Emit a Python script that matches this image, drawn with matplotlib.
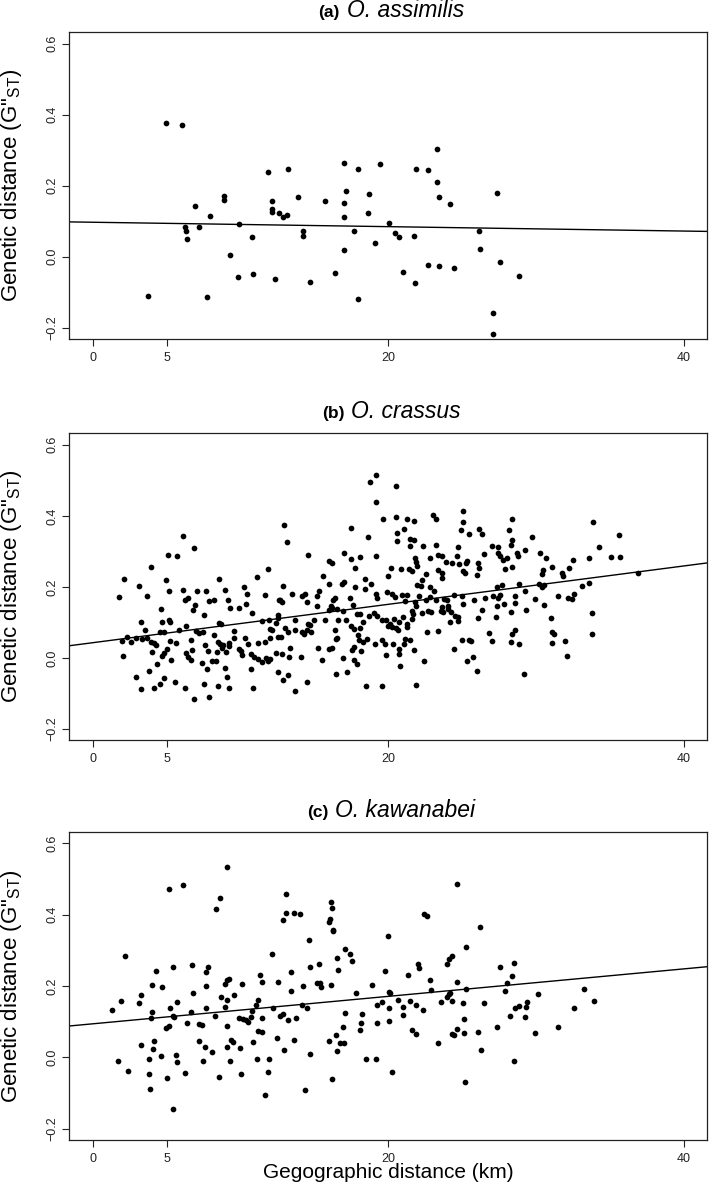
import matplotlib
matplotlib.use('Agg')
import matplotlib.pyplot as plt
import numpy as np

plt.rcParams['font.family'] = ['Liberation Sans', 'DejaVu Sans']
plt.rcParams['mathtext.fontset'] = 'custom'
plt.rcParams['mathtext.rm'] = 'Liberation Sans'

# tick values / labels
x_ticks = [0, 5, 20, 40]
y_ticks = [-0.2, 0.0, 0.2, 0.4, 0.6]
y_ticklabels = ['\u22120.2', '0.0', '0.2', '0.4', '0.6']

tags = ['(a)', '(b)', '(c)']
species = ['O. assimilis', 'O. crassus', 'O. kawanabei']

# fitted lines: (intercept, slope)
fit_a = (0.097, -0.00062)
fit_b = (0.0428, 0.0054)
fit_c = (0.094, 0.00385)

# (geographic distance km, G''ST) pairs
pts_a = [
    (3.72, -0.112), (4.94, 0.376), (6.02, 0.370), (6.24, 0.085), (6.33, 0.073), (6.36, 0.050),
    (6.88, 0.142), (7.16, 0.085), (7.73, -0.113), (7.91, 0.114), (8.89, 0.172), (8.89, 0.160),
    (9.29, 0.006), (9.88, 0.093), (9.85, -0.058), (10.80, 0.055), (10.83, -0.048), (11.88, 0.238),
    (12.11, 0.156), (12.11, 0.135), (12.11, 0.127), (12.31, -0.064), (12.60, 0.122), (12.85, 0.112),
    (13.15, 0.118), (13.20, 0.246), (13.91, 0.169), (14.20, 0.072), (14.20, 0.057), (14.70, -0.070),
    (15.72, 0.157), (16.37, -0.046), (16.98, 0.264), (16.98, 0.152), (16.98, 0.112), (17.00, 0.018),
    (17.12, 0.185), (17.68, 0.072), (17.95, 0.246), (17.93, -0.119), (18.63, 0.123), (18.67, 0.176),
    (19.10, 0.039), (19.44, 0.261), (20.07, 0.094), (20.43, 0.068), (20.75, 0.055), (21.02, -0.042),
    (21.72, 0.057), (21.85, 0.246), (21.83, -0.073), (22.69, -0.022), (22.72, 0.245), (23.30, 0.304),
    (23.30, 0.209), (23.40, 0.168), (23.40, -0.025), (24.17, 0.149), (24.45, -0.032), (26.11, 0.073),
    (26.23, 0.023), (27.11, -0.158), (27.07, -0.218), (27.33, 0.180), (27.54, -0.014), (28.84, -0.054),
]

pts_b = [
    (6.11, 0.343), (6.87, 0.309), (5.09, 0.289), (5.68, 0.286), (3.94, 0.257), (2.10, 0.223),
    (4.96, 0.220), (8.52, 0.221), (3.11, 0.202), (11.11, 0.228), (11.84, 0.251),
    (1.78, 0.171), (3.65, 0.174), (5.14, 0.188), (6.09, 0.191), (7.03, 0.188), (7.66, 0.188),
    (8.93, 0.190), (10.21, 0.199), (10.44, 0.180), (11.68, 0.176),
    (6.22, 0.164), (6.47, 0.169), (6.92, 0.149), (6.81, 0.134), (7.87, 0.159), (8.21, 0.164),
    (9.15, 0.164), (10.39, 0.153), (9.29, 0.140), (9.92, 0.141), (10.78, 0.126), (4.62, 0.138),
    (7.53, 0.122), (12.63, 0.164), (12.56, 0.120), (12.51, 0.111),
    (3.25, 0.101), (4.67, 0.100), (5.12, 0.106), (5.21, 0.100), (3.52, 0.078), (4.55, 0.074),
    (4.82, 0.074), (6.31, 0.089), (5.82, 0.078), (6.97, 0.077), (7.19, 0.071), (7.44, 0.072),
    (8.57, 0.099), (8.68, 0.094), (8.23, 0.064), (9.58, 0.077), (11.43, 0.105), (11.91, 0.106),
    (12.42, 0.098), (12.00, 0.082), (12.11, 0.078),
    (2.30, 0.060), (1.96, 0.047), (2.59, 0.046), (2.91, 0.056), (3.34, 0.053), (3.65, 0.056),
    (3.90, 0.046), (4.15, 0.042), (4.26, 0.036), (3.99, 0.016), (5.21, 0.048), (5.64, 0.041),
    (6.65, 0.051), (7.62, 0.036), (8.50, 0.046), (8.61, 0.039), (8.79, 0.036), (9.22, 0.041),
    (9.24, 0.033), (9.58, 0.055), (10.28, 0.056), (10.48, 0.040), (11.16, 0.042), (11.68, 0.044),
    (12.02, 0.055), (12.56, 0.058),
    (2.05, 0.005), (4.69, 0.006), (4.82, 0.014), (5.05, 0.026), (4.33, -0.016), (5.30, -0.006),
    (6.31, 0.015), (6.70, 0.023), (6.47, 0.002), (6.61, -0.007), (7.37, -0.013), (7.78, 0.020),
    (7.73, -0.032), (8.03, -0.010), (8.34, -0.008), (8.43, 0.016), (8.73, 0.027), (9.04, 0.017),
    (9.90, 0.026), (10.01, 0.018), (10.10, 0.007), (10.69, 0.012), (10.94, 0.003), (11.21, -0.002),
    (11.43, -0.011), (11.70, 0.000), (11.86, -0.009), (12.00, -0.002), (12.38, 0.015),
    (3.83, -0.037), (2.95, -0.053), (4.80, -0.057), (4.55, -0.073), (4.15, -0.084), (3.27, -0.087),
    (5.57, -0.068), (6.24, -0.085), (6.83, -0.117), (7.55, -0.073), (7.87, -0.109), (8.50, -0.079),
    (9.11, -0.054), (9.24, -0.085), (8.95, -0.029), (10.71, -0.032), (10.85, -0.084), (12.51, -0.041),
    # middle section
    (19.16, 0.515), (18.73, 0.494), (20.49, 0.485), (19.19, 0.439), (12.96, 0.374), (13.14, 0.325),
    (17.45, 0.367), (18.60, 0.340), (19.64, 0.390), (20.54, 0.398), (21.26, 0.391), (21.76, 0.386),
    (23.02, 0.402), (23.24, 0.390), (25.05, 0.414), (25.03, 0.382), (24.89, 0.360), (25.45, 0.350),
    (20.58, 0.352), (20.58, 0.329), (21.08, 0.363), (21.46, 0.335), (21.73, 0.332), (21.46, 0.315),
    (22.36, 0.315), (23.24, 0.319), (14.54, 0.291), (15.98, 0.273), (16.21, 0.268), (16.98, 0.295),
    (17.45, 0.278), (18.06, 0.284), (19.16, 0.286), (17.72, 0.254), (20.20, 0.254), (20.85, 0.249),
    (21.40, 0.251), (21.58, 0.244), (21.82, 0.281), (21.85, 0.269), (21.91, 0.258), (22.82, 0.282),
    (23.33, 0.289), (23.61, 0.288), (23.92, 0.270), (24.28, 0.268), (24.66, 0.288), (24.75, 0.313),
    (24.80, 0.265), (25.23, 0.268), (25.36, 0.272), (25.05, 0.246), (25.18, 0.239), (23.38, 0.247),
    (23.61, 0.238), (23.61, 0.224), (22.57, 0.236), (22.30, 0.219), (21.91, 0.204), (15.60, 0.231),
    (12.87, 0.203), (13.46, 0.179), (14.13, 0.174), (14.36, 0.181), (15.15, 0.175), (15.33, 0.189),
    (16.84, 0.207), (16.98, 0.215), (15.98, 0.207), (17.74, 0.199), (18.42, 0.223), (18.82, 0.207),
    (18.42, 0.195), (19.14, 0.181), (19.88, 0.185), (20.22, 0.181), (20.45, 0.172), (20.90, 0.178),
    (21.24, 0.178), (22.18, 0.202), (22.82, 0.200), (23.06, 0.188), (22.84, 0.172), (22.07, 0.174),
    (12.67, 0.164), (12.83, 0.156), (14.49, 0.157), (15.15, 0.145), (16.12, 0.145), (16.28, 0.164),
    (16.39, 0.170), (17.43, 0.170), (17.58, 0.149), (19.21, 0.169), (19.95, 0.231), (21.12, 0.159),
    (21.58, 0.131), (21.80, 0.156), (21.89, 0.146), (22.52, 0.164), (23.24, 0.164), (23.74, 0.166),
    (24.42, 0.176), (24.96, 0.175), (23.94, 0.162), (24.01, 0.146), (23.65, 0.143), (23.54, 0.132),
    (24.24, 0.129), (24.73, 0.115), (25.07, 0.151),
    (13.68, 0.108), (14.59, 0.096), (14.99, 0.106), (15.71, 0.106), (15.98, 0.134), (16.16, 0.141),
    (16.52, 0.139), (16.95, 0.132), (16.61, 0.106), (17.11, 0.106), (17.85, 0.123), (18.08, 0.124),
    (18.26, 0.100), (18.71, 0.118), (19.05, 0.125), (19.21, 0.119), (19.55, 0.108), (19.86, 0.106),
    (20.09, 0.096), (20.36, 0.109), (20.74, 0.100), (20.49, 0.085), (21.01, 0.115), (21.24, 0.095),
    (21.58, 0.109), (21.64, 0.123), (22.27, 0.125), (22.70, 0.131), (22.88, 0.128), (23.70, 0.128),
    (24.06, 0.139), (24.51, 0.117), (24.69, 0.105), (24.17, 0.101),
    (13.01, 0.084), (13.19, 0.073), (13.68, 0.079), (14.13, 0.073), (14.27, 0.068), (14.49, 0.078),
    (14.70, 0.093), (14.77, 0.073), (16.39, 0.079), (16.52, 0.057), (17.47, 0.090), (17.70, 0.080),
    (18.08, 0.085), (17.92, 0.064), (18.04, 0.049), (18.31, 0.045), (18.53, 0.054), (19.59, 0.049),
    (20.00, 0.091), (20.22, 0.087), (20.67, 0.079), (21.26, 0.087), (21.12, 0.054), (21.46, 0.049),
    (23.33, 0.075), (22.59, 0.073), (12.74, 0.059), (13.32, 0.028), (12.83, 0.012), (13.28, 0.003),
    (14.09, 0.002), (15.26, 0.027), (15.98, 0.025), (16.21, 0.028), (16.46, 0.053), (17.70, 0.031),
    (17.70, -0.005), (17.88, -0.018), (18.15, 0.018), (19.10, 0.038), (19.77, 0.040), (19.84, 0.009),
    (20.34, 0.038), (20.74, 0.026), (21.06, 0.039), (20.72, 0.012), (21.76, 0.023), (24.44, 0.026),
    (24.96, 0.049), (25.45, 0.049), (25.36, -0.009), (15.49, -0.007), (16.91, -0.001), (17.52, 0.021),
    (22.39, -0.010), (20.79, -0.022), (12.89, -0.062), (13.19, -0.049), (13.68, -0.094), (14.49, -0.067),
    (16.43, -0.045), (17.18, -0.039), (18.51, -0.078), (19.59, -0.079), (21.85, -0.076),
    # right section
    (28.35, 0.392), (33.83, 0.382), (35.65, 0.347), (26.14, 0.362), (26.32, 0.348), (28.17, 0.359),
    (28.35, 0.332), (28.30, 0.317), (29.75, 0.341), (27.04, 0.315), (27.40, 0.313), (27.45, 0.294),
    (27.58, 0.287), (27.78, 0.275), (28.01, 0.281), (28.35, 0.256), (27.90, 0.251), (28.69, 0.294),
    (28.75, 0.287), (29.25, 0.303), (30.26, 0.294), (30.65, 0.280), (31.05, 0.256), (30.47, 0.247),
    (30.42, 0.236), (31.77, 0.239), (31.84, 0.230), (32.23, 0.253), (32.52, 0.275), (33.58, 0.282),
    (34.26, 0.313), (35.07, 0.285), (35.68, 0.283), (36.92, 0.239), (33.58, 0.212), (33.08, 0.202),
    (26.50, 0.292), (26.05, 0.266), (26.14, 0.252), (25.98, 0.234), (25.82, 0.162), (26.54, 0.170),
    (27.11, 0.174), (27.33, 0.200), (27.72, 0.204), (27.40, 0.170), (27.56, 0.176), (28.57, 0.174),
    (28.84, 0.207), (29.25, 0.189), (30.20, 0.207), (30.42, 0.200), (30.56, 0.204), (29.93, 0.167),
    (31.50, 0.175), (32.14, 0.168), (32.41, 0.167), (32.59, 0.181), (27.33, 0.147), (27.85, 0.153),
    (28.57, 0.155), (26.32, 0.136), (26.05, 0.111), (27.27, 0.115), (28.30, 0.128), (29.29, 0.134),
    (30.56, 0.149), (31.01, 0.111), (33.76, 0.127), (26.79, 0.069), (26.99, 0.048), (28.28, 0.045),
    (28.39, 0.066), (28.57, 0.078), (28.84, 0.040), (31.10, 0.073), (31.23, 0.068), (31.05, 0.043),
    (31.96, 0.047), (32.07, 0.005), (33.76, 0.068), (25.75, 0.002), (25.98, -0.037), (29.20, -0.045),
    (25.60, 0.047),
]

pts_c = [
    (9.06, 0.535), (5.14, 0.472), (6.13, 0.483), (8.63, 0.448), (8.34, 0.417), (13.05, 0.458),
    (13.05, 0.404), (12.87, 0.385), (13.64, 0.406), (14.02, 0.401), (16.12, 0.435), (16.17, 0.419),
    (16.08, 0.387), (15.96, 0.379), (16.26, 0.358), (16.28, 0.353), (14.63, 0.328), (2.18, 0.283),
    (12.11, 0.291), (17.07, 0.304), (17.43, 0.289), (17.52, 0.269), (16.53, 0.278), (16.57, 0.244),
    (14.70, 0.254), (15.33, 0.262), (4.26, 0.241), (5.43, 0.253), (6.69, 0.259), (7.78, 0.254),
    (7.69, 0.239), (13.39, 0.238), (11.29, 0.231), (11.43, 0.212), (12.56, 0.210), (9.22, 0.221),
    (9.06, 0.218), (8.93, 0.205), (10.08, 0.206), (7.64, 0.200), (4.66, 0.198), (3.99, 0.204),
    (15.20, 0.209), (15.40, 0.209), (15.47, 0.197), (16.12, 0.203), (14.25, 0.199), (13.39, 0.187),
    (18.87, 0.203), (17.79, 0.181), (3.25, 0.175), (1.89, 0.158), (3.13, 0.152), (1.31, 0.132),
    (5.21, 0.139), (5.70, 0.156), (6.78, 0.181), (6.67, 0.128), (8.66, 0.168), (9.11, 0.162),
    (9.54, 0.175), (8.95, 0.142), (7.64, 0.138), (3.99, 0.128), (3.92, 0.109), (5.45, 0.116),
    (5.52, 0.113), (8.27, 0.117), (10.75, 0.130), (11.05, 0.147), (11.21, 0.160), (12.22, 0.138),
    (14.18, 0.147), (14.52, 0.137), (9.90, 0.111), (10.15, 0.107), (10.37, 0.104), (10.53, 0.099),
    (10.71, 0.113), (11.43, 0.109), (12.67, 0.115), (12.90, 0.121), (13.19, 0.104), (13.78, 0.111),
    (17.07, 0.124), (18.24, 0.121), (18.13, 0.097), (18.08, 0.078), (16.91, 0.085), (16.44, 0.062),
    (15.96, 0.046), (16.73, 0.041), (16.98, 0.039), (16.55, 0.017), (14.70, 0.010), (13.64, 0.049),
    (12.96, 0.020), (12.47, 0.053), (11.16, 0.074), (11.43, 0.071), (10.82, 0.043), (9.99, 0.027),
    (9.33, 0.049), (9.51, 0.044), (9.09, 0.029), (9.11, 0.088), (7.15, 0.094), (7.37, 0.090),
    (6.38, 0.095), (5.12, 0.089), (4.94, 0.083), (4.17, 0.046), (4.10, 0.023), (3.25, 0.035),
    (7.19, 0.046), (7.60, 0.028), (8.05, 0.014), (4.58, 0.003), (3.81, -0.004), (5.61, 0.007),
    (5.68, -0.013), (7.44, -0.010), (9.31, -0.010), (11.14, -0.005), (11.93, -0.006), (18.49, -0.006),
    (1.69, -0.009), (2.36, -0.039), (3.81, -0.048), (5.03, -0.059), (6.24, -0.045), (8.57, -0.056),
    (10.01, -0.046), (11.88, -0.041), (3.88, -0.089), (11.68, -0.107), (14.38, -0.093), (16.21, -0.061),
    (5.41, -0.144),
    # right part
    (24.62, 0.487), (22.44, 0.401), (22.59, 0.396), (26.20, 0.366), (19.96, 0.341), (25.23, 0.310),
    (24.31, 0.285), (24.13, 0.276), (23.95, 0.263), (21.98, 0.263), (22.05, 0.251), (19.75, 0.243),
    (27.53, 0.254), (28.50, 0.264), (28.34, 0.229), (28.05, 0.209), (27.92, 0.186), (24.67, 0.211),
    (25.23, 0.193), (22.82, 0.218), (22.91, 0.188), (21.33, 0.231), (20.07, 0.184), (20.11, 0.179),
    (19.21, 0.146), (19.59, 0.154), (20.02, 0.139), (20.65, 0.160), (21.02, 0.141), (21.47, 0.157),
    (21.87, 0.146), (22.37, 0.133), (20.97, 0.119), (23.54, 0.154), (23.95, 0.169), (24.08, 0.177),
    (24.17, 0.181), (24.31, 0.159), (25.05, 0.153), (26.49, 0.151), (30.15, 0.178), (29.40, 0.156),
    (29.31, 0.142), (28.82, 0.145), (28.57, 0.139), (28.25, 0.115), (29.25, 0.112), (33.26, 0.191),
    (33.94, 0.158), (32.58, 0.137), (19.26, 0.095), (20.05, 0.103), (21.58, 0.076), (21.87, 0.066),
    (23.34, 0.039), (24.28, 0.066), (24.47, 0.063), (24.62, 0.080), (25.12, 0.107), (25.12, 0.069),
    (26.09, 0.070), (26.29, 0.020), (27.35, 0.085), (29.92, 0.067), (31.50, 0.085), (19.14, -0.006),
    (20.23, -0.041), (25.16, -0.068), (28.50, -0.010),
]

panels = [
    (tags[0], species[0], pts_a, fit_a),
    (tags[1], species[1], pts_b, fit_b),
    (tags[2], species[2], pts_c, fit_c),
]

fig = plt.figure(figsize=(7.09, 11.94), dpi=100)
boxes = [[0.0977, 0.716, 0.900, 0.257],
         [0.0977, 0.380, 0.900, 0.257],
         [0.0977, 0.0452, 0.900, 0.258]]

renderer = fig.canvas.get_renderer()

for i, (tag, name, pts, fit) in enumerate(panels):
    ax = fig.add_axes(boxes[i])
    d = np.array(pts)
    ax.scatter(d[:, 0], d[:, 1], s=17, c='black', linewidths=0, zorder=3)
    ax.axline((0, fit[0]), slope=fit[1], color='black', lw=1.0)

    ax.set_xlim(-1.6, 41.6)
    ax.set_ylim(-0.232, 0.632)
    ax.set_xticks(x_ticks)
    ax.set_xticklabels([str(t) for t in x_ticks])
    ax.set_yticks(y_ticks)
    ax.set_yticklabels(y_ticklabels, rotation=90, va='center')
    ax.tick_params(direction='out', length=5, width=0.8, labelsize=9, colors='#222222')
    ax.tick_params(axis='x', pad=4)
    ax.tick_params(axis='y', pad=2.8)
    for sp in ax.spines.values():
        sp.set_linewidth(0.9)
        sp.set_color('#222222')

    ax.set_ylabel('Genetic distance (G"$\\mathregular{_{ST}}$)', fontsize=16)
    ax.yaxis.set_label_coords(-0.071, 0.5)

    # two-part title: bold tag + italic species, centred above the box
    t1 = ax.text(0, 0, tag, transform=ax.transAxes, fontsize=12.5, fontweight='bold',
                 ha='left', va='baseline')
    t2 = ax.text(0, 0, name, transform=ax.transAxes, fontsize=16.5, style='italic',
                 ha='left', va='baseline')
    w1 = t1.get_window_extent(renderer).width
    w2 = t2.get_window_extent(renderer).width
    gap = 7
    bw = ax.bbox.width
    start = bw / 2 + 3 - (w1 + gap + w2) / 2
    ty = 1 + 15 / ax.bbox.height
    t1.set_position((start / bw, ty))
    t2.set_position(((start + w1 + gap) / bw, ty))

    if i == 2:
        ax.set_xlabel('Gegographic distance (km)', fontsize=15)
        ax.xaxis.set_label_coords(0.5, -0.075)

fig.savefig('out.png', dpi=100)
